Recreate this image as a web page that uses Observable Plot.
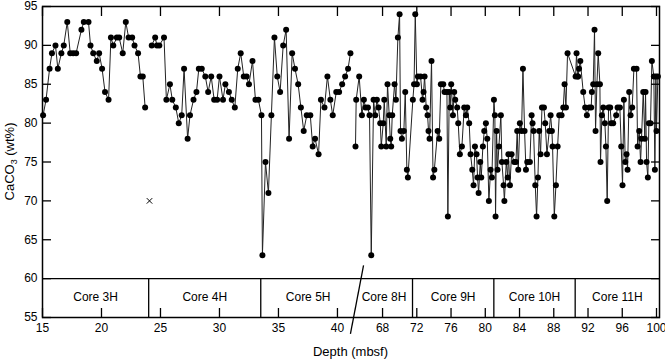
<!DOCTYPE html>
<html><head><meta charset="utf-8">
<script src="https://cdn.jsdelivr.net/npm/d3@7"></script>
<script src="https://cdn.jsdelivr.net/npm/@observablehq/plot@0.6"></script>
<style>html,body{margin:0;padding:0;background:#fff}svg{display:block}</style>
</head><body><div id="chart"></div>
<script>
// ---- Data (depth in mbsf, CaCO3 in wt%) ----
const cores = ["Core 3H","Core 4H","Core 5H","Core 8H","Core 9H","Core 10H","Core 11H"];
const coreTop =    [15.0, 24.0, 33.5, 64.84, 71.5, 81.0, 90.5];
const coreBottom = [24.0, 33.5, 41.53, 71.5, 81.0, 90.5, 100.35];
const coreBoundaries = [24.0, 33.5, 71.5, 81.0, 90.5];
const lineGroup = [1, 2, 2, 3, 3, 3, 3];

const depth3H = [15.05,15.3,15.6,15.8,16.1,16.3,16.6,16.8,17.1,17.35,17.6,17.85,18.3,18.5,18.9,19.07,19.3,19.6,19.8,20.05,20.3,20.6,20.8,21.0,21.3,21.5,21.8,22.06,22.3,22.6,22.8,23.1,23.3,23.5,23.7];
const caco3_3H = [81,83,87,89,90,87,89,90,93,89,89,89,92,93,93,90,89,88,89,87,84,83,91,90,91,91,89,93,91,91,90,89,86,86,82];

const depth4H = [24.26,24.55,24.7,24.9,25.3,25.5,25.8,26.0,26.3,26.55,26.8,27.0,27.3,27.5,27.8,28.05,28.25,28.5,28.8,29.04,29.3,29.55,29.8,30.0,30.3,30.5,30.8,31.04,31.3,31.55,31.8,32.06,32.3,32.5,32.8,33.05,33.3];
const caco3_4H = [90,91,90,90,91,83,85,83,82,80,81,87,78,81,83,84,87,87,86,84,86,83,83,86,83,85,84,83,82,87,89,86,86,85,88,83,83];

const depth5H = [33.56,33.64,33.9,34.15,34.4,34.66,34.9,35.14,35.4,35.65,35.9,36.16,36.4,36.67,36.9,37.14,37.4,37.7,37.9,38.1,38.4,38.6,38.9,39.15,39.4,39.6,39.9,40.14,40.4,40.65,40.9,41.1];
const caco3_5H = [81,63,75,71,81,91,86,84,90,92,78,89,87,85,82,79,81,81,77,78,76,83,82,86,83,81,84,84,85,86,87,89];

const depth8H = [64.73,64.92,65.27,65.59,65.82,66.01,66.29,66.48,66.68,66.95,67.14,67.34,67.53,67.73,67.85,68.08,68.2,68.43,68.58,68.78,68.9,69.01,69.13,69.4,69.56,69.79,69.99,70.1,70.26,70.49,70.65,70.84,70.96];
const caco3_8H = [77,83,86,81,83,82,82,81,63,83,81,83,82,80,77,80,83,77,85,81,78,77,81,85,83,91,94,79,78,79,84,74,73];

const depth9H = [71.54,71.68,71.82,72.01,72.13,72.44,72.67,72.79,72.91,73.1,73.26,73.37,73.49,73.72,73.9,74.05,74.43,74.62,74.81,75.09,75.24,75.52,75.63,75.79,75.9,76.02,76.22,76.37,76.49,76.72,76.84,77.03,77.27,77.54,77.74,77.89,78.12,78.28,78.48,78.63,78.79,78.98,79.1,79.22,79.41,79.53,79.72,79.88,80.07,80.23,80.42,80.62,80.77];
const caco3_9H = [83,85,94,85,86,86,83,84,86,82,81,79,78,88,73,74,79,78,85,85,84,84,68,84,82,85,81,84,83,82,80,76,77,82,81,82,80,76,74,72,77,76,73,71,75,73,77,79,80,78,70,74,73];

const depth10H = [81.01,81.12,81.2,81.32,81.43,81.59,81.82,81.94,82.14,82.23,82.45,82.62,82.7,82.88,83.07,83.38,83.58,83.73,83.85,84.04,84.24,84.4,84.59,84.75,84.9,85.21,85.41,85.52,85.64,85.84,85.99,86.15,86.3,86.46,86.62,86.85,87.0,87.2,87.47,87.63,87.78,87.86,88.06,88.25,88.45,88.64,88.91,89.11,89.26,89.42,89.61];
const caco3_10H = [83,81,68,79,74,77,81,75,72,70,75,73,76,72,76,75,75,79,74,80,79,87,79,74,75,75,81,80,79,72,68,73,79,76,82,82,80,76,79,81,79,77,68,72,77,81,81,82,85,82,89];

const depth11H = [90.55,90.66,90.78,90.85,90.95,91.1,91.44,91.67,91.87,92.14,92.37,92.45,92.61,92.76,92.88,93.04,93.19,93.39,93.46,93.62,93.78,93.97,94.09,94.24,94.4,94.59,94.71,94.94,95.29,95.45,95.72,95.88,96.03,96.19,96.35,96.5,96.62,96.81,96.97,97.16,97.36,97.67,97.79,97.98,98.14,98.25,98.45,98.64,98.72,98.84,98.99,99.11,99.3,99.46,99.69,99.81,99.93,100.0,100.16];
const caco3_11H = [86,89,86,86,87,88,84,82,81,82,82,84,85,92,79,85,89,85,75,81,82,80,77,70,82,82,80,80,81,82,82,77,72,83,75,76,74,84,81,82,87,87,77,79,75,78,84,78,84,75,73,80,80,88,86,74,86,79,86];

// flagged sample (drawn as a cross, not joined)
const flaggedDepth = [24.07];
const flaggedCaco3 = [70];

const xTicks = [15,20,25,30,35,40,68,72,76,80,84,88,92,96,100];
const yTicks = [55,60,65,70,75,80,85,90,95];
const xDomain = [15, 41.53, 64.84, 100.35]; // piecewise: 41.53–64.84 omitted (axis break)
const breakSlash = [{x1: 65.78, y1: 61.7, x2: 41.1, y2: 52.9}];

// ---- Build table ----
const depthByCore = [depth3H, depth4H, depth5H, depth8H, depth9H, depth10H, depth11H];
const caco3ByCore = [caco3_3H, caco3_4H, caco3_5H, caco3_8H, caco3_9H, caco3_10H, caco3_11H];
const samples = [];
depthByCore.forEach((ds, ci) => ds.forEach((d, i) => samples.push({depth: d, caco3: caco3ByCore[ci][i], core: cores[ci], run: lineGroup[ci]})));
const flagged = flaggedDepth.map((d, i) => ({depth: d, caco3: flaggedCaco3[i]}));
const coreLabels = cores.map((c, i) => ({name: c, mid: (coreTop[i] + coreBottom[i]) / 2}));

const W = 665, H = 359, ML = 42, MR = 6, MT = 6, MB = 42;
const xBreakPx = 355;

const chart = Plot.plot({
  width: W, height: H,
  marginLeft: ML, marginRight: MR, marginTop: MT, marginBottom: MB,
  style: {fontFamily: "'Liberation Sans', Arial, Helvetica, sans-serif", fontSize: "12px", color: "black", background: "white"},
  x: {type: "linear", domain: xDomain, range: [ML, xBreakPx, xBreakPx, W - MR]},
  y: {domain: [55, 95]},
  marks: [
    Plot.ruleY([60], {stroke: "black", strokeWidth: 1.3}),
    Plot.ruleX(coreBoundaries, {y1: 55, y2: 60, stroke: "black", strokeWidth: 1.3}),
    Plot.text(coreLabels, {x: "mid", y: 57.6, text: "name", fontSize: 12, fill: "black"}),
    Plot.line(samples, {x: "depth", y: "caco3", z: "run", stroke: "#222", strokeWidth: 1}),
    Plot.dot(samples, {x: "depth", y: "caco3", r: 3, fill: "black", stroke: "none"}),
    Plot.dot(flagged, {x: "depth", y: "caco3", symbol: "times", r: 2.6, stroke: "black", strokeWidth: 1}),
    Plot.link(breakSlash, {x1: "x1", y1: "y1", x2: "x2", y2: "y2", stroke: "black", strokeWidth: 1.3, clip: false}),
    Plot.axisX(xTicks, {anchor: "bottom", tickSize: 0, tickPadding: 6, label: null, fontSize: 12}),
    Plot.axisX(xTicks, {anchor: "bottom", tickSize: -9, tickFormat: () => "", label: null, strokeWidth: 1.3}),
    Plot.axisX(xTicks, {anchor: "top", tickSize: -9, tickFormat: () => "", label: null, strokeWidth: 1.3}),
    Plot.axisY(yTicks, {anchor: "left", tickSize: 0, tickPadding: 5, label: null, fontSize: 12}),
    Plot.axisY(yTicks, {anchor: "left", tickSize: -9, tickFormat: () => "", label: null, strokeWidth: 1.3}),
    Plot.axisY(yTicks, {anchor: "right", tickSize: -9, tickFormat: () => "", label: null, strokeWidth: 1.3}),
    Plot.frame({stroke: "black", strokeWidth: 1.5})
  ]
});
document.getElementById("chart").appendChild(chart);

// axis titles
const svg = d3.select(chart);
const ff = "'Liberation Sans', Arial, Helvetica, sans-serif";
svg.append("text")
  .attr("x", (ML + W - MR) / 2).attr("y", 355.5)
  .attr("text-anchor", "middle").attr("font-size", 13).attr("font-family", ff).attr("fill", "black")
  .text("Depth (mbsf)");
const yl = svg.append("text")
  .attr("transform", `translate(14,${(MT + H - MB) / 2}) rotate(-90)`)
  .attr("text-anchor", "middle").attr("font-size", 13).attr("font-family", ff).attr("fill", "black");
yl.append("tspan").text("CaCO");
yl.append("tspan").attr("font-size", 9).attr("dy", 3).text("3");
yl.append("tspan").attr("dy", -3).text(" (wt%)");
</script></body></html>
